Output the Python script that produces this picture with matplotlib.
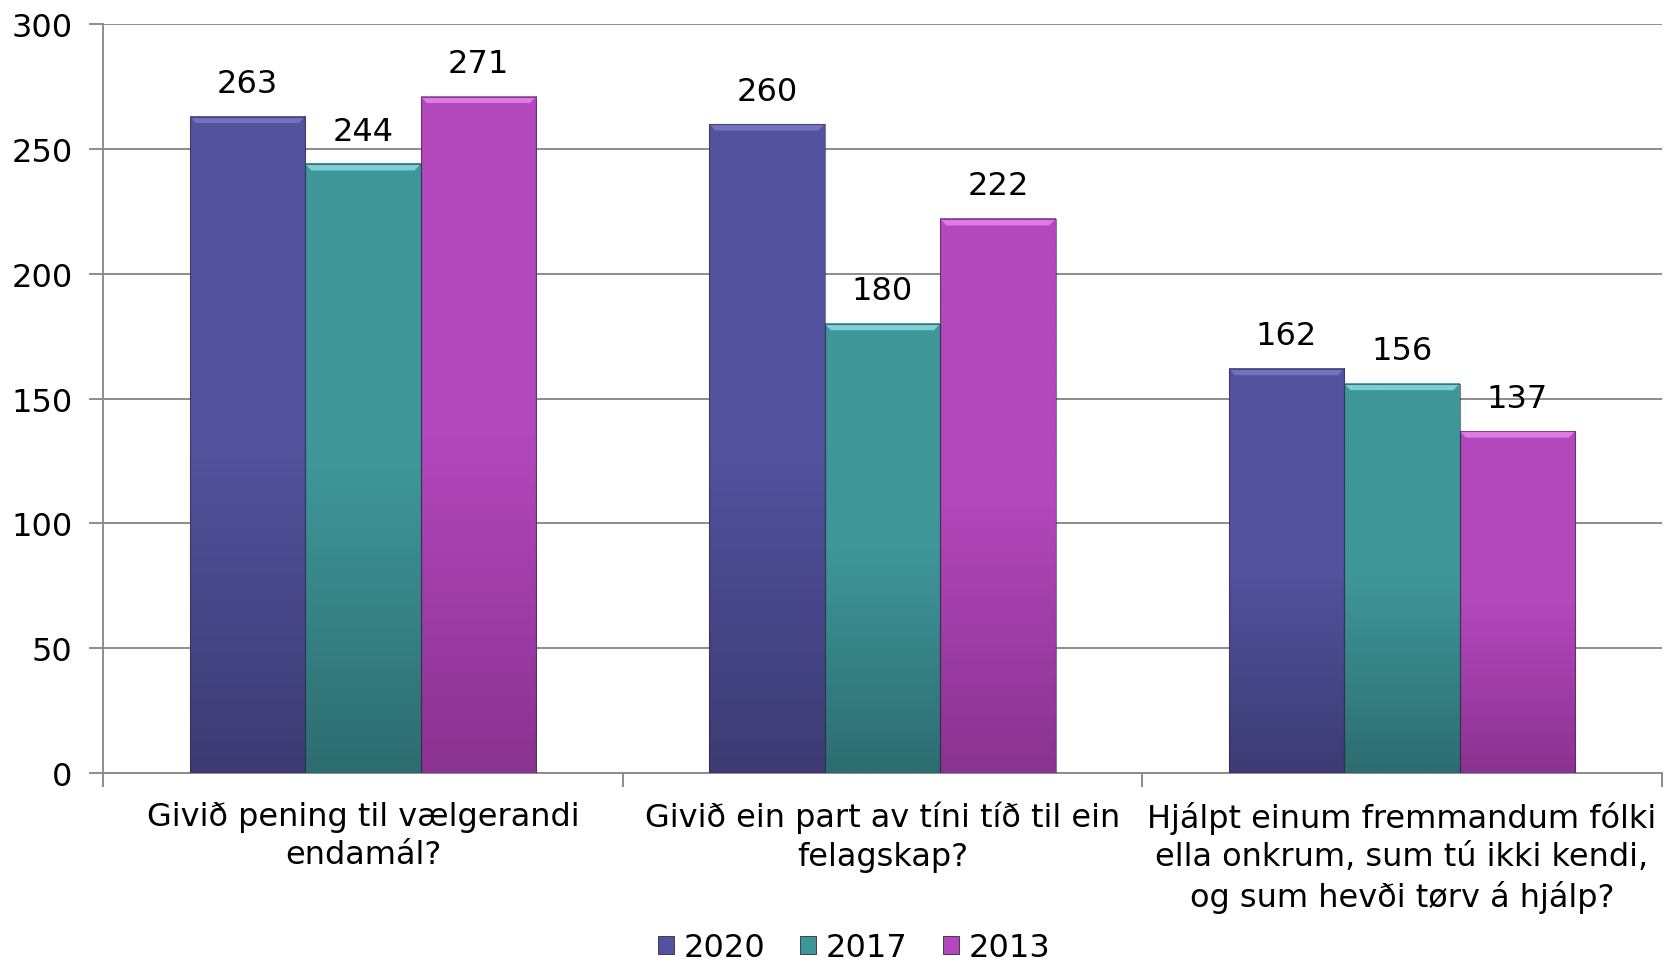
import numpy as np
import matplotlib.pyplot as plt
from matplotlib.patches import Patch, Polygon
from matplotlib.colors import LinearSegmentedColormap

categories = [
    "Givið pening til vælgerandi\nendamál?",
    "Givið ein part av tíni tíð til ein\nfelagskap?",
    "Hjálpt einum fremmandum fólki\nella onkrum, sum tú ikki kendi,\nog sum hevði tørv á hjálp?",
]
years = ["2020", "2017", "2013"]
v2020 = [263, 260, 162]
v2017 = [244, 180, 156]
v2013 = [271, 222, 137]

# (top colour, bottom colour, bevel colour)
colors = [
    ("#52529e", "#3c3b74", "#7878c4"),
    ("#3f9699", "#2d6d70", "#86dcde"),
    ("#b347bc", "#8a3390", "#e985ee"),
]

plt.rcParams['font.family'] = ['DejaVu Sans']
fig = plt.figure(figsize=(16.65, 9.70), dpi=100)
ax = fig.add_axes([0.062, 0.202, 0.936, 0.772])

x = np.arange(len(categories))
w = 1 / 4.5

bev_y = 2.6
bev_x = 0.012
for i, vals in enumerate([v2020, v2017, v2013]):
    top, bot, bev = colors[i]
    cmap = LinearSegmentedColormap.from_list("g%d" % i, [bot, top, top])
    for j, v in enumerate(vals):
        x0 = x[j] + (i - 1.5) * w
        x1 = x0 + w
        grad = np.linspace(0, 1, 200).reshape(-1, 1)
        ax.imshow(grad, extent=(x0, x1, 0, v), origin='lower', cmap=cmap,
                  aspect='auto', zorder=3, interpolation='bilinear')
        ax.add_patch(Polygon([(x0, v), (x1, v), (x1 - bev_x, v - bev_y), (x0 + bev_x, v - bev_y)],
                             closed=True, facecolor=bev, edgecolor='none', alpha=0.85, zorder=4))
        ax.add_patch(plt.Rectangle((x0, 0), w, v, fill=False, edgecolor='#2a2a40',
                                   linewidth=0.8, alpha=0.6, zorder=5))
        ax.text(x0 + w / 2, v + 7, str(v), ha='center', va='bottom', fontsize=23, zorder=6)

ax.set_xlim(-0.5, 2.5)
ax.set_ylim(0, 300)
ax.set_yticks(np.arange(0, 301, 50))
ax.yaxis.grid(True, color='#8c8c8c', linewidth=1.4, zorder=0)
ax.set_axisbelow(True)
ax.tick_params(axis='y', labelsize=23, length=10, width=1.4, color='#8c8c8c', pad=12)

ax.set_xticks(x)
ax.set_xticklabels(categories, fontsize=23, linespacing=1.3)
ax.tick_params(axis='x', which='major', length=0, pad=20)
ax.set_xticks([-0.5, 0.5, 1.5, 2.5], minor=True)
ax.tick_params(axis='x', which='minor', length=10, width=1.4, color='#8c8c8c')

for s in ['top', 'right']:
    ax.spines[s].set_visible(False)
for s in ['left', 'bottom']:
    ax.spines[s].set_color('#8c8c8c')
    ax.spines[s].set_linewidth(1.4)

handles = [Patch(facecolor=c[0], edgecolor='#2a2a40', linewidth=0.6) for c in colors]
fig.legend(handles, years, loc='center', bbox_to_anchor=(0.513, 0.022), ncol=3,
           frameon=False, fontsize=23, handlelength=0.5, handleheight=0.5,
           handletextpad=0.3, columnspacing=1.1, borderpad=0.1)

fig.savefig('out.png', dpi=100)
